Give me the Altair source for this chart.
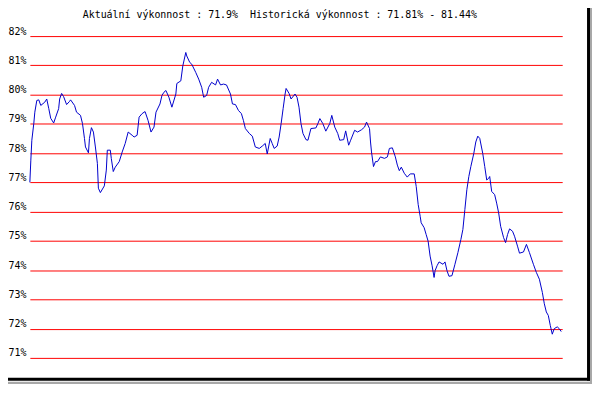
import altair as alt
import pandas as pd

# ---- data ----
day = [0, 1, 2, 4, 5, 7, 9, 11, 15, 17, 19, 21, 24, 26, 29, 30, 32, 34, 37, 40,
       41, 45, 47, 51, 53, 55, 56, 59, 60, 62, 64, 66, 68, 69, 71, 75, 77, 78, 81, 82,
       84, 86, 90, 93, 96, 99, 103, 105, 108, 110, 113, 116, 119, 122, 125, 127, 131, 133, 135, 137,
       140, 143, 147, 148, 152, 154, 157, 158, 161, 163, 167, 170, 173, 175, 178, 180, 183, 187, 189, 192,
       195, 198, 202, 204, 207, 210, 213, 215, 217, 221, 224, 227, 231, 234, 237, 239, 242, 244, 246, 249,
       251, 253, 255, 257, 258, 261, 263, 267, 269, 271, 273, 275, 278, 280, 283, 288, 290, 292, 295, 298,
       302, 304, 307, 310, 312, 316, 318, 321, 323, 327, 330, 334, 337, 339, 342, 343, 344, 346, 348, 350,
       353, 357, 360, 362, 365, 368, 370, 372, 374, 377, 380, 383, 387, 389, 391, 393, 394, 397, 399, 401,
       403, 405, 407, 408, 410, 412, 416, 418, 420, 422, 425, 428, 431, 434, 436, 438, 440, 442, 444, 447,
       449, 451, 453, 456, 458, 460, 462, 463, 465, 468, 470, 472, 474, 477, 479, 481, 483, 486, 488, 491,
       493, 497, 500, 503, 507, 510, 513, 516, 518, 520, 522, 524, 526, 528, 531, 533, 535]

perf = [77.0, 77.76, 78.44, 79.02, 79.4, 79.8, 79.82, 79.63, 79.74, 79.85, 79.53, 79.19, 79.03, 79.23, 79.52, 79.85, 80.04, 79.93, 79.66, 79.77,
        79.82, 79.63, 79.4, 79.29, 79.01, 78.5, 78.21, 78.01, 78.5, 78.87, 78.72, 78.21, 77.65, 76.8, 76.65, 76.88, 77.42, 78.1, 78.1, 77.82,
        77.37, 77.52, 77.71, 78.04, 78.33, 78.72, 78.61, 78.55, 78.61, 79.23, 79.35, 79.42, 79.12, 78.72, 78.89, 79.4, 79.68, 79.97, 80.08, 80.14,
        79.91, 79.57, 80.02, 80.38, 80.47, 80.98, 81.44, 81.32, 81.1, 81.04, 80.76, 80.53, 80.25, 79.91, 79.97, 80.25, 80.42, 80.33, 80.53, 80.33,
        80.36, 80.33, 80.02, 79.68, 79.66, 79.46, 79.35, 79.12, 78.84, 78.67, 78.58, 78.21, 78.16, 78.24, 78.33, 77.97, 78.5, 78.33, 78.16, 78.24,
        78.55, 79.01, 79.52, 80.02, 80.21, 80.04, 79.85, 80.02, 79.91, 79.57, 79.01, 78.67, 78.46, 78.44, 78.84, 78.86, 79.01, 79.18, 79.01, 78.75,
        79.01, 79.29, 78.89, 78.67, 78.44, 78.46, 78.76, 78.27, 78.44, 78.78, 78.72, 78.8, 78.89, 79.06, 78.84, 78.38, 78.04, 77.54, 77.71, 77.71,
        77.87, 77.82, 77.87, 78.16, 78.18, 77.87, 77.59, 77.4, 77.52, 77.31, 77.18, 77.29, 77.29, 76.86, 76.24, 75.84, 75.62, 75.45, 75.22, 74.99,
        74.48, 74.15, 73.75, 73.98, 74.15, 74.28, 74.2, 74.28, 73.98, 73.79, 73.81, 74.2, 74.6, 75.05, 75.39, 76.07, 76.75, 77.2, 77.54, 77.99,
        78.38, 78.58, 78.5, 77.99, 77.54, 77.08, 77.14, 77.2, 76.69, 76.58, 76.29, 75.96, 75.5, 75.11, 74.94, 75.22, 75.41, 75.33, 75.16, 74.82,
        74.58, 74.62, 74.88, 74.6, 74.2, 73.92, 73.69, 73.24, 72.85, 72.57, 72.45, 72.11, 71.81, 72.0, 72.06, 72.0, 71.9]

y_ticks = [71, 72, 73, 74, 75, 76, 77, 78, 79, 80, 81, 82]
title_text = "Aktuální výkonnost : 71.9%\u00a0 Historická výkonnost : 71.81% - 81.44%"

assert len(day) == len(perf)

FONT = "DejaVu Sans Mono"
df = pd.DataFrame({"day": day, "perf": perf})
one = pd.DataFrame({"k": [0]})

line = alt.Chart(df).mark_line(color="#0000cc", strokeWidth=1).encode(
    x=alt.X("day:Q", scale=alt.Scale(domain=[0, 536], nice=False, zero=False), axis=None),
    y=alt.Y(
        "perf:Q",
        scale=alt.Scale(domain=[71, 82], nice=False, zero=False),
        axis=alt.Axis(
            values=y_ticks, grid=True, gridColor="#ff0000", gridWidth=1, gridOpacity=1,
            domain=False, ticks=False, labelExpr="datum.value + '%'",
            labelFont=FONT, labelFontSize=10, labelColor="#000000",
            labelBaseline="alphabetic", labelOffset=-2, labelPadding=4, title=None,
        ),
    ),
)

title = alt.Chart(one).mark_text(
    text=title_text, font=FONT, fontSize=10, color="#000000", align="center", baseline="alphabetic"
).encode(x=alt.value(251.7), y=alt.value(-18))

shadow_r = alt.Chart(one).mark_rect(color="#a8a8a8").encode(
    x=alt.value(564), x2=alt.value(570), y=alt.value(-30), y2=alt.value(365))
shadow_b = alt.Chart(one).mark_rect(color="#a8a8a8").encode(
    x=alt.value(-25), x2=alt.value(570), y=alt.value(348), y2=alt.value(365))
border_r = alt.Chart(one).mark_rule(color="#000000", strokeWidth=3).encode(
    x=alt.value(562.5), y=alt.value(-40), y2=alt.value(347))
border_b = alt.Chart(one).mark_rule(color="#000000", strokeWidth=3).encode(
    x=alt.value(-30), x2=alt.value(564), y=alt.value(345.5))

chart = alt.layer(line, title, shadow_r, shadow_b, border_r, border_b).properties(
    width=536, height=324,
    padding={"left": 22, "top": 27, "right": 30, "bottom": 25},
    autosize=alt.AutoSizeParams(type="none"),
    background="#ffffff",
).configure_view(stroke=None)

chart.save("out.html", embed_options={"renderer": "svg", "actions": False})
